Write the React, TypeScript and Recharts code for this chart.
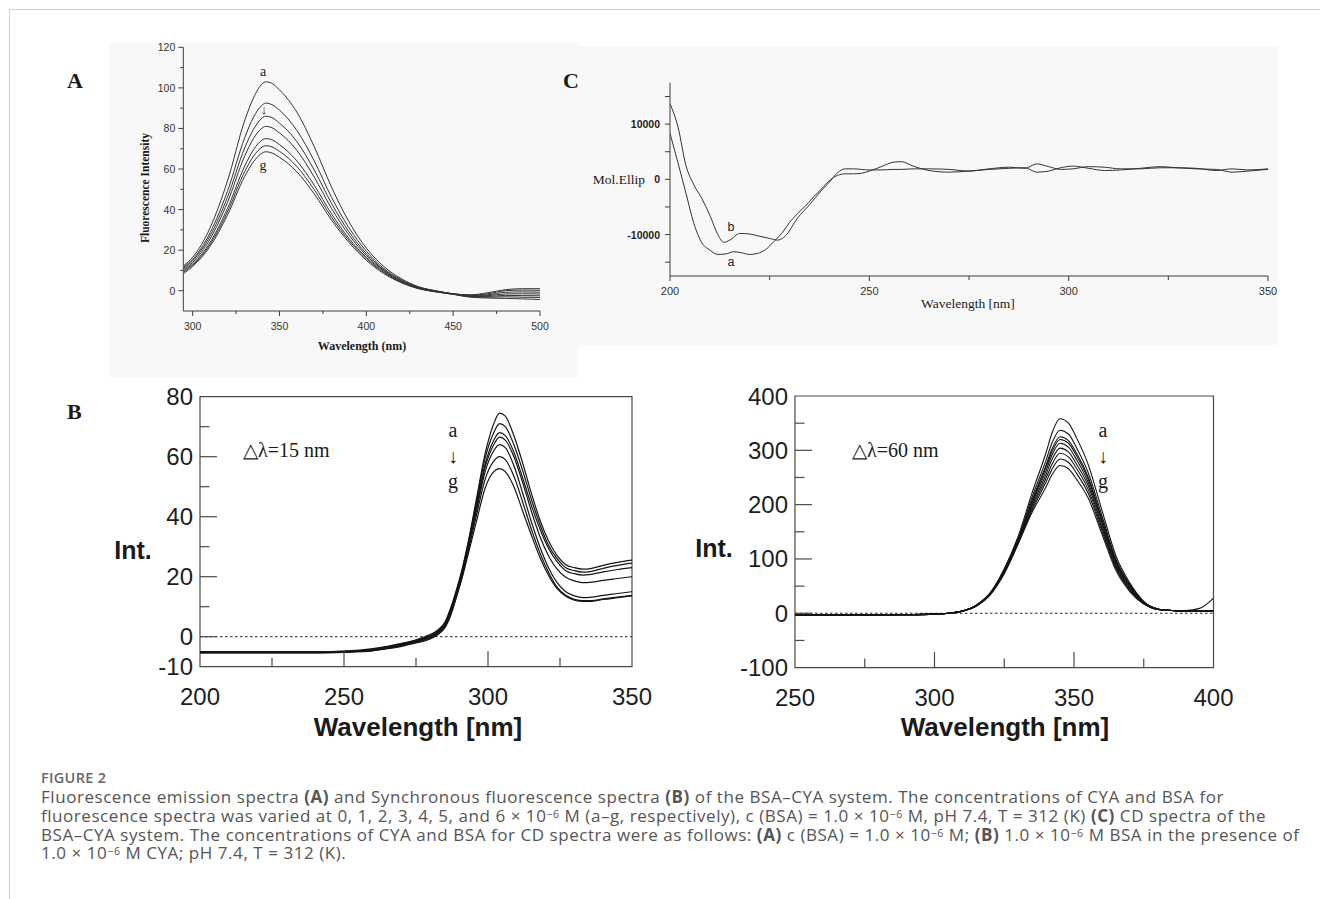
import React from "react";
import { LineChart, Line, XAxis, YAxis, ReferenceLine, ReferenceArea } from "recharts";

const SANS = "'Liberation Sans', Arial, Helvetica, sans-serif";
const SERIF = "'Liberation Serif', 'Times New Roman', serif";
const CAPTION_FONT = "'Open Sans', 'Noto Sans', sans-serif";

// ---- panel A: fluorescence emission spectra, curves a..g
const WL_A = [295, 300, 310, 320, 330, 335, 340, 342, 345, 350, 360, 370, 380, 390, 400, 410, 420, 430, 440, 450, 460, 470, 480, 490, 500];
const A_a = [12.5, 16.5, 31, 54, 84, 95, 102, 103, 102.5, 99, 88, 71, 51, 34, 21, 12, 6, 2, 0, -1.5, -2, -1, 0.5, 1, 1];
const A_b = [11.8, 15.5, 28.5, 49, 75.5, 85.5, 91.5, 92.5, 92, 89, 79, 64, 46, 31, 19.5, 11, 5.5, 1.8, -0.1, -1.5, -2.2, -1.5, 0, 0.3, 0.2];
const A_c = [11.2, 14.8, 27, 46, 70.5, 79.5, 85.2, 86, 85.6, 82.6, 73.5, 59.5, 43, 29, 18.3, 10.4, 5, 1.6, -0.2, -1.6, -2.4, -2, -0.8, -0.6, -0.7];
const A_d = [10.6, 14, 25.5, 43.5, 66.5, 75, 80.2, 81, 80.6, 77.8, 69.2, 56, 40.5, 27.5, 17.4, 10, 4.8, 1.5, -0.3, -1.6, -2.6, -2.4, -1.6, -1.5, -1.6];
const A_e = [10, 13.2, 23.8, 40.5, 61.5, 69.5, 74.3, 75, 74.6, 72, 64, 52, 37.8, 25.8, 16.5, 9.5, 4.5, 1.3, -0.4, -1.7, -2.8, -2.8, -2.3, -2.4, -2.5];
const A_f = [9.3, 12.6, 22.8, 38.8, 58.8, 66.3, 70.8, 71.5, 71.1, 68.7, 61.2, 49.8, 36.2, 24.8, 15.8, 9, 4.2, 1.1, -0.5, -1.7, -3, -3.2, -3, -3.2, -3.3];
const A_g = [8.6, 12, 21.8, 37.2, 56.4, 63.5, 67.9, 68.5, 68.1, 65.8, 58.6, 47.7, 34.8, 23.8, 15, 8.5, 4, 1, -0.6, -1.8, -3.2, -3.6, -3.8, -4, -4.3];
const A_TICKS_X = [300, 325, 350, 375, 400, 425, 450, 475, 500];
const A_TICKS_Y = [0, 10, 20, 30, 40, 50, 60, 70, 80, 90, 100, 110, 120];

// ---- panel C: CD spectra, a and b
const WL_CD_A = [200, 202, 204, 206, 208, 210, 212, 214, 216, 218, 220, 222, 224, 226, 228, 230, 232, 234, 236, 238, 240, 242, 244, 246, 248, 250, 253, 256, 258, 261, 265, 270, 275, 280, 285, 289, 292, 295, 298, 301, 305, 309, 313, 318, 323, 327, 332, 337, 341, 345, 350];
const CD_A = [8300, 3000, -2500, -8000, -11500, -12800, -13600, -13500, -13100, -13300, -13600, -13400, -12700, -11300, -9800, -7800, -6200, -4800, -3200, -1700, -200, 700, 1000, 1000, 1100, 1500, 2300, 3100, 3200, 2400, 1600, 1300, 1500, 1800, 2000, 2100, 1300, 1500, 2100, 2400, 2000, 1600, 1700, 2000, 2300, 2100, 1900, 1800, 1300, 1500, 1800];
const WL_CD_B = [200, 202, 204, 206, 208, 210, 212, 213.5, 215, 217.5, 220, 222.5, 225, 227, 229, 232, 235, 238, 240, 242, 244, 246, 248, 250, 253, 256, 258, 261, 265, 270, 275, 280, 285, 289, 292, 295, 298, 301, 305, 309, 313, 318, 323, 327, 332, 337, 341, 345, 350];
const CD_B = [13700, 9500, 2500, -1000, -3500, -6500, -10000, -11400, -11000, -9800, -9900, -10300, -10700, -11000, -10200, -7000, -4600, -2000, -500, 1200, 1900, 1900, 1800, 1700, 1700, 1800, 1800, 1900, 1900, 1800, 1500, 1900, 2200, 2000, 2800, 2300, 1800, 1900, 2300, 2200, 1900, 1900, 2100, 2100, 2000, 1600, 1900, 1700, 1900];
const C_TICKS_X = [200, 225, 250, 275, 300, 325, 350];
const C_TICKS_Y = [-15000, -10000, -5000, 0, 5000, 10000, 15000];

// ---- panel B left: synchronous, delta lambda 15 nm
const WL_B1 = [200, 220, 240, 250, 260, 265, 270, 275, 278, 281, 283, 285, 287, 289, 291, 293, 296, 299, 302, 304, 306, 309, 312, 315, 318, 321, 324, 327, 330, 333, 336, 340, 345, 350];
const B1_a = [-5, -5, -5, -4.8, -4, -3.2, -2.2, -1, 0, 1.2, 2.6, 4.8, 9.5, 15.5, 22.5, 31, 46, 61, 71, 74.5, 73.5, 67, 58, 48, 39, 32, 27, 24, 23, 22.5, 22.8, 23.8, 24.8, 25.5];
const B1_b = [-5.1, -5.1, -5.1, -4.9, -4.2, -3.4, -2.4, -1.2, -0.3, 0.9, 2.3, 4.4, 9, 15, 22, 30.5, 45, 59.5, 68, 71, 70, 64, 55.5, 46, 37.5, 30.5, 26, 23, 22, 21.5, 21.8, 22.8, 23.8, 24.5];
const B1_c = [-5.2, -5.2, -5.2, -5, -4.3, -3.5, -2.6, -1.4, -0.5, 0.7, 2.1, 4.1, 8.6, 14.6, 21.5, 30, 44, 57.5, 65.5, 68, 67, 61.5, 53, 44, 36, 29.5, 25, 22, 21, 20.5, 20.8, 21.6, 22.4, 23];
const B1_d = [-5.2, -5.2, -5.2, -5, -4.4, -3.6, -2.7, -1.5, -0.6, 0.5, 1.9, 3.8, 8.2, 14.2, 21, 29.5, 43, 56.5, 64, 66.5, 65.5, 60, 51.5, 42, 33.5, 27, 22.5, 19.8, 18.6, 18, 18.2, 18.8, 19.4, 20];
const B1_e = [-5.3, -5.3, -5.3, -5.1, -4.5, -3.8, -2.9, -1.7, -0.9, 0.2, 1.6, 3.5, 7.8, 13.8, 20.5, 29, 42, 55, 62, 64, 63, 57, 48, 38.5, 30, 23, 18, 15, 13.6, 13, 13.2, 13.8, 14.4, 15];
const B1_f = [-5.3, -5.3, -5.3, -5.1, -4.6, -3.9, -3, -1.9, -1.1, 0, 1.3, 3.2, 7.4, 13.4, 20, 28, 40.5, 52.5, 58.5, 60, 59, 53.5, 45, 36, 28, 21.5, 16.5, 13.8, 12.5, 12, 12, 12.6, 13.2, 13.8];
const B1_g = [-5.4, -5.4, -5.4, -5.2, -4.7, -4, -3.2, -2.1, -1.4, -0.3, 1, 2.9, 7, 13, 19.5, 27, 38.5, 49.5, 55, 56, 55, 50, 42, 34, 26.5, 20.5, 16, 13.5, 12.2, 11.8, 11.8, 12.4, 13, 13.6];
const B1_TICKS_X = [200, 225, 250, 275, 300, 325, 350];
const B1_TICKS_Y = [-10, 0, 10, 20, 30, 40, 50, 60, 70, 80];

// ---- panel B right: synchronous, delta lambda 60 nm
const WL_B2 = [250, 270, 290, 300, 305, 310, 315, 320, 325, 330, 335, 340, 342, 345, 348, 351, 355, 360, 365, 370, 375, 380, 385, 390, 395, 400];
const B2_a = [-3, -3, -2.5, -1.5, 0, 4, 15, 38, 82, 142, 222, 296, 330, 358, 350, 322, 275, 190, 106, 56, 22, 8, 5, 5, 9, 28];
const B2_b = [-3, -3, -2.5, -1.5, 0, 4, 15, 37, 80, 138, 214, 282, 312, 337, 330, 304, 260, 180, 100, 53, 21, 8, 5, 4, 4, 4];
const B2_c = [-3, -3, -2.5, -1.5, 0, 4, 15, 37, 79, 135, 208, 273, 301, 325, 318, 294, 252, 174, 97, 51, 20, 8, 5, 4, 4, 4];
const B2_d = [-3, -3, -2.5, -1.5, 0, 4, 15, 37, 78, 134, 205, 269, 296, 320, 313, 289, 248, 171, 95, 50, 20, 8, 5, 4, 4, 4];
const B2_e = [-3, -3, -2.5, -1.5, 0, 4, 14, 36, 77, 132, 202, 263, 290, 313, 306, 282, 242, 167, 92, 48, 19, 8, 5, 4, 4, 4];
const B2_f = [-3, -3, -2.5, -1.5, 0, 4, 14, 36, 76, 131, 198, 256, 282, 304, 297, 274, 236, 162, 89, 46, 19, 7, 5, 4, 4, 4];
const B2_g = [-3, -3, -2.5, -1.5, 0, 4, 14, 35, 75, 130, 194, 249, 273, 294.5, 288, 266, 229, 157, 86, 44, 18, 7, 5, 4, 4, 4];
const B2_h = [-3, -3, -2.5, -1.5, 0, 4, 14, 35, 74, 129, 190, 242, 264, 284, 278, 257, 222, 152, 83, 42, 18, 7, 5, 4, 4, 4];
const B2_i = [-3, -3, -2.5, -1.5, 0, 4, 13, 34, 73, 128, 186, 233, 254, 272, 266, 246, 213, 146, 79, 40, 17, 7, 5, 4, 4, 4];
const B2_TICKS_X = [250, 275, 300, 325, 350, 375, 400];
const B2_TICKS_Y = [-100, -50, 0, 50, 100, 150, 200, 250, 300, 350, 400];

const table = (xs: number[], cols: Record<string, number[]>) =>
  xs.map((w, i) => {
    const row: Record<string, number> = { w };
    for (const k of Object.keys(cols)) row[k] = cols[k][i];
    return row;
  });
const points = (xs: number[], ys: number[]) => xs.map((w, i) => ({ w, v: ys[i] }));

const dataA = table(WL_A, { a: A_a, b: A_b, c: A_c, d: A_d, e: A_e, f: A_f, g: A_g });
const dataB1 = table(WL_B1, { a: B1_a, b: B1_b, c: B1_c, d: B1_d, e: B1_e, f: B1_f, g: B1_g });
const dataB2 = table(WL_B2, { a: B2_a, b: B2_b, c: B2_c, d: B2_d, e: B2_e, f: B2_f, g: B2_g, h: B2_h, i: B2_i });

const INK = "#3c3c3c";
const FRAME = "#4a4a4a";

// ticks: axes get tickSize 0 / tickMargin 0 so x,y land on the axis line
function ATickX({ x, y, payload }: any) {
  const v = payload.value;
  const major = v % 50 === 0;
  return (
    <g>
      <line x1={x} x2={x} y1={y} y2={y + (major ? 5 : 3)} stroke={INK} />
      {major && (
        <text x={x} y={y + 15} textAnchor="middle" dominantBaseline="central" fontSize={10.5} fontFamily={SANS} fill="#333">
          {v}
        </text>
      )}
    </g>
  );
}
function ATickY({ x, y, payload }: any) {
  const v = payload.value;
  const major = v % 20 === 0;
  return (
    <g>
      <line x1={x} x2={x - (major ? 5 : 3)} y1={y} y2={y} stroke={INK} />
      {major && (
        <text x={x - 8} y={y} textAnchor="end" dominantBaseline="central" fontSize={10.5} fontFamily={SANS} fill="#333">
          {v}
        </text>
      )}
    </g>
  );
}
function CTickX({ x, y, payload }: any) {
  const v = payload.value;
  const major = v % 50 === 0;
  return (
    <g>
      <line x1={x} x2={x} y1={y} y2={y + (major ? 5 : 4)} stroke={INK} />
      {major && (
        <text x={x} y={y + 15} textAnchor="middle" dominantBaseline="central" fontSize={11} fontFamily={SANS} fill="#333">
          {v}
        </text>
      )}
    </g>
  );
}
function CTickY({ x, y, payload }: any) {
  const v = payload.value;
  const major = v % 10000 === 0;
  return (
    <g>
      <line x1={x} x2={x - 5} y1={y} y2={y} stroke={INK} />
      {major && (
        <text x={x - 10} y={y} textAnchor="end" dominantBaseline="central" fontSize={10.5} fontWeight="bold" fontFamily={SANS} fill="#222">
          {v}
        </text>
      )}
    </g>
  );
}

const bTickY = (lo: number, hi: number, step: number) =>
  function BTickY({ x, y, payload }: any) {
    const v = payload.value;
    const edge = v === lo || v === hi;
    const major = v % step === 0;
    const len = edge ? 0 : major ? 17 : 9.5;
    return (
      <g>
        {len > 0 && <line x1={x} x2={x + len} y1={y} y2={y} stroke={FRAME} strokeWidth={1.2} />}
        {(major || v === lo) && (
          <text x={x - 7} y={y} textAnchor="end" dominantBaseline="central" fontSize={24} fontFamily={SANS} fill="#1e1e1e">
            {v}
          </text>
        )}
      </g>
    );
  };
const bTickX = (lo: number, hi: number) =>
  function BTickX({ x, y, payload }: any) {
    const v = payload.value;
    const edge = v === lo || v === hi;
    const major = v % 50 === 0;
    const len = edge ? 0 : major ? 15.5 : 9;
    return (
      <g>
        {len > 0 && <line x1={x} x2={x} y1={y} y2={y - len} stroke={FRAME} strokeWidth={1.2} />}
        {major && (
          <text x={x} y={y + 30} textAnchor="middle" dominantBaseline="central" fontSize={24} fontFamily={SANS} fill="#1e1e1e">
            {v}
          </text>
        )}
      </g>
    );
  };
const B1TickY = bTickY(-10, 80, 20);
const B1TickX = bTickX(200, 350);
const B2TickY = bTickY(-100, 400, 100);
const B2TickX = bTickX(250, 400);

function T({ x, y, size, bold, serif, anchor = "middle", children, rotate }: any) {
  return (
    <text
      x={x}
      y={y}
      fontSize={size}
      fontWeight={bold ? "bold" : "normal"}
      fontFamily={serif ? SERIF : SANS}
      textAnchor={anchor}
      dominantBaseline="central"
      fill="#1a1a1a"
      transform={rotate ? `rotate(${rotate} ${x} ${y})` : undefined}
    >
      {children}
    </text>
  );
}

const sup = (s: string) => (
  <sup style={{ fontSize: "0.62em", verticalAlign: "0.36em", lineHeight: 0 }}>{s}</sup>
);

const CAPTION_LH = 18.6;
const captionLine = (mid: number): React.CSSProperties => ({
  position: "absolute",
  left: 41,
  top: mid - CAPTION_LH / 2,
  whiteSpace: "nowrap",
  lineHeight: `${CAPTION_LH}px`,
  fontSize: 17,
  letterSpacing: 0.55,
  fontFamily: CAPTION_FONT,
  color: "#555",
});

export default function App() {
  const keysA = ["a", "b", "c", "d", "e", "f", "g"];
  const keysB2 = ["a", "b", "c", "d", "e", "f", "g", "h", "i"];
  return (
    <div style={{ position: "absolute", left: 0, top: 0, width: 1320, height: 899, background: "#fff", overflow: "hidden" }}>
      {/* page frame */}
      <div style={{ position: "absolute", left: 9, top: 9, width: 1311, height: 890, borderTop: "1px solid #cfcfcf", borderLeft: "1px solid #cfcfcf" }} />

      {/* scanned-panel backgrounds */}
      <div style={{ position: "absolute", left: 109, top: 43, width: 469, height: 334, background: "#f8f8f8" }} />
      <div style={{ position: "absolute", left: 578, top: 46, width: 700, height: 299, background: "#f8f8f8" }} />

      {/* panel A */}
      <div style={{ position: "absolute", left: 109, top: 30, width: 469, height: 347 }}>
        <LineChart width={469} height={347} data={dataA} margin={{ top: 17.3, right: 38, bottom: 36, left: 34.3 }}>
          <XAxis dataKey="w" type="number" domain={[294.6, 500]} ticks={A_TICKS_X} interval={0} allowDataOverflow tickLine={false} tickSize={0} tickMargin={0} stroke={INK} height={30} tick={ATickX} />
          <YAxis type="number" domain={[-10, 120]} ticks={A_TICKS_Y} interval={0} allowDataOverflow tickLine={false} tickSize={0} tickMargin={0} stroke={INK} width={40} tick={ATickY} />
          {keysA.map((k) => (
            <Line key={k} dataKey={k} type="monotone" dot={false} stroke="#333" strokeWidth={1} isAnimationActive={false} />
          ))}
        </LineChart>
      </div>

      {/* panel C */}
      <div style={{ position: "absolute", left: 578, top: 46, width: 700, height: 299 }}>
        <LineChart width={700} height={299} margin={{ top: 36.7, right: 10, bottom: 39, left: 42 }}>
          <XAxis dataKey="w" type="number" domain={[200, 350]} ticks={C_TICKS_X} interval={0} allowDataOverflow tickLine={false} tickSize={0} tickMargin={0} stroke={INK} height={30} tick={CTickX} />
          <YAxis type="number" domain={[-17500, 17500]} ticks={C_TICKS_Y} interval={0} allowDataOverflow tickLine={false} tickSize={0} tickMargin={0} stroke={INK} width={50} tick={CTickY} />
          <Line data={points(WL_CD_A, CD_A)} dataKey="v" type="monotone" dot={false} stroke="#333" strokeWidth={1} isAnimationActive={false} />
          <Line data={points(WL_CD_B, CD_B)} dataKey="v" type="monotone" dot={false} stroke="#333" strokeWidth={1} isAnimationActive={false} />
        </LineChart>
      </div>

      {/* panel B left */}
      <div style={{ position: "absolute", left: 60, top: 380, width: 600, height: 370 }}>
        <LineChart width={600} height={370} data={dataB1} margin={{ top: 16.7, right: 28, bottom: 43.3, left: 80 }}>
          <XAxis dataKey="w" type="number" domain={[200, 350]} ticks={B1_TICKS_X} interval={0} allowDataOverflow axisLine={false} tickLine={false} tickSize={0} tickMargin={0} height={40} tick={B1TickX} />
          <YAxis type="number" domain={[-10, 80]} ticks={B1_TICKS_Y} interval={0} allowDataOverflow axisLine={false} tickLine={false} tickSize={0} tickMargin={0} width={60} tick={B1TickY} />
          <ReferenceArea x1={200} x2={350} y1={-10} y2={80} fill="none" fillOpacity={0} stroke={FRAME} strokeWidth={1.2} />
          <ReferenceLine y={0} stroke="#222" strokeDasharray="2.5 2.5" />
          {keysA.map((k) => (
            <Line key={k} dataKey={k} type="monotone" dot={false} stroke="#151515" strokeWidth={1.2} isAnimationActive={false} />
          ))}
        </LineChart>
      </div>

      {/* panel B right */}
      <div style={{ position: "absolute", left: 680, top: 380, width: 560, height: 370 }}>
        <LineChart width={560} height={370} data={dataB2} margin={{ top: 16, right: 26.5, bottom: 42.4, left: 55 }}>
          <XAxis dataKey="w" type="number" domain={[250, 400]} ticks={B2_TICKS_X} interval={0} allowDataOverflow axisLine={false} tickLine={false} tickSize={0} tickMargin={0} height={40} tick={B2TickX} />
          <YAxis type="number" domain={[-100, 400]} ticks={B2_TICKS_Y} interval={0} allowDataOverflow axisLine={false} tickLine={false} tickSize={0} tickMargin={0} width={60} tick={B2TickY} />
          <ReferenceArea x1={250} x2={400} y1={-100} y2={400} fill="none" fillOpacity={0} stroke={FRAME} strokeWidth={1.2} />
          <ReferenceLine y={0} stroke="#222" strokeDasharray="2.5 2.5" />
          {keysB2.map((k) => (
            <Line key={k} dataKey={k} type="monotone" dot={false} stroke="#151515" strokeWidth={1.1} isAnimationActive={false} />
          ))}
        </LineChart>
      </div>

      {/* annotations */}
      <svg width={1320} height={899} style={{ position: "absolute", left: 0, top: 0, pointerEvents: "none" }}>
        <T x={67} y={80} size={22} bold serif anchor="start">A</T>
        <T x={563} y={80} size={22} bold serif anchor="start">C</T>
        <T x={67} y={411} size={22} bold serif anchor="start">B</T>

        {/* A */}
        <T x={263} y={71} size={14} serif>a</T>
        <T x={264} y={109} size={13} serif>↓</T>
        <T x={263} y={165} size={14} serif>g</T>
        <T x={145} y={188} size={11.5} bold serif rotate={-90}>Fluorescence Intensity</T>
        <T x={362} y={346} size={12} bold serif>Wavelength (nm)</T>

        {/* C */}
        <T x={645} y={179} size={13.5} serif anchor="end">Mol.Ellip</T>
        <T x={968} y={303} size={13.5} serif>Wavelength [nm]</T>
        <T x={731} y={227} size={12.5}>b</T>
        <T x={731} y={262} size={12.5}>a</T>

        {/* B left */}
        <T x={133} y={550} size={25} bold>Int.</T>
        <T x={418} y={727} size={26} bold>Wavelength [nm]</T>
        <T x={243} y={450} size={20} serif anchor="start">△λ=15 nm</T>
        <T x={453} y={430} size={20} serif>a</T>
        <T x={453} y={456} size={20} serif>↓</T>
        <T x={453} y={481} size={20} serif>g</T>

        {/* B right */}
        <T x={714} y={548} size={25} bold>Int.</T>
        <T x={1005} y={727} size={26} bold>Wavelength [nm]</T>
        <T x={852} y={450} size={20} serif anchor="start">△λ=60 nm</T>
        <T x={1103} y={430} size={20} serif>a</T>
        <T x={1103} y={456} size={20} serif>↓</T>
        <T x={1103} y={481} size={20} serif>g</T>
      </svg>

      {/* caption */}
      <div style={{ position: "absolute", left: 41, top: 770, lineHeight: "16px", fontSize: 14.5, letterSpacing: 0.3, fontWeight: 600, fontFamily: CAPTION_FONT, color: "#666" }}>
        FIGURE 2
      </div>
      <div style={captionLine(797.7)}>
        Fluorescence emission spectra <b>(A)</b> and Synchronous fluorescence spectra <b>(B)</b> of the BSA–CYA system. The concentrations of CYA and BSA for
      </div>
      <div style={captionLine(816.3)}>
        fluorescence spectra was varied at 0, 1, 2, 3, 4, 5, and 6 × 10{sup("−6")} M (a–g, respectively), c (BSA) = 1.0 × 10{sup("−6")} M, pH 7.4, T = 312 (K) <b>(C)</b> CD spectra of the
      </div>
      <div style={captionLine(834.9)}>
        BSA–CYA system. The concentrations of CYA and BSA for CD spectra were as follows: <b>(A)</b> c (BSA) = 1.0 × 10{sup("−6")} M; <b>(B)</b> 1.0 × 10{sup("−6")} M BSA in the presence of
      </div>
      <div style={captionLine(853.5)}>
        1.0 × 10{sup("−6")} M CYA; pH 7.4, T = 312 (K).
      </div>
    </div>
  );
}
